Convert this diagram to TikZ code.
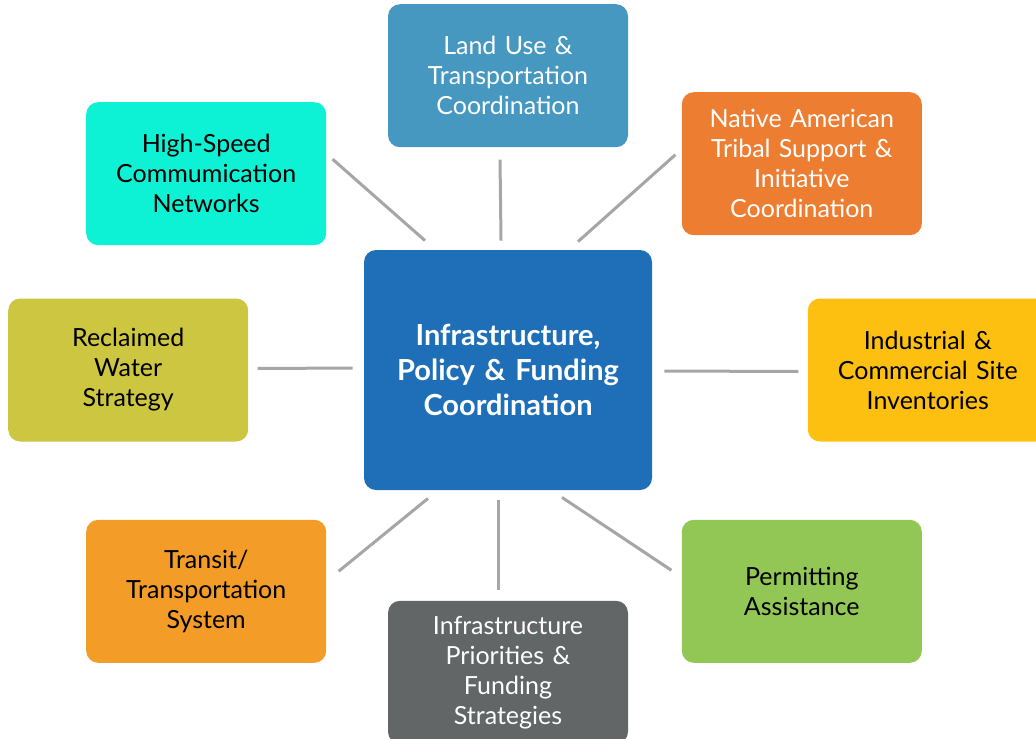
\documentclass[tikz,border=0pt]{standalone}
\usepackage{fontspec}
\setmainfont{Lato}
\usetikzlibrary{positioning}
\definecolor{coreblue}{HTML}{1F6FB8}
\definecolor{landblue}{HTML}{4698C0}
\definecolor{tribeorange}{HTML}{ED7D31}
\definecolor{netcyan}{HTML}{0DF2D4}
\definecolor{wateroil}{HTML}{CCC640}
\definecolor{siteyellow}{HTML}{FDC010}
\definecolor{transitorange}{HTML}{F39C28}
\definecolor{fundgray}{HTML}{636666}
\definecolor{permitgreen}{HTML}{92C755}
\definecolor{linkgray}{HTML}{A6A6A6}
\begin{document}
\begin{tikzpicture}[x=0.5pt,y=-0.5pt,
    box/.style={rounded corners=6pt,inner sep=0pt,minimum width=120pt,minimum height=71.5pt,
      text width=116pt,align=center,font=\fontsize{12.5}{15}\selectfont},
    core/.style={box,minimum width=144pt,minimum height=120pt,text width=140pt,
      font=\bfseries\fontsize{14.5}{17.5}\selectfont},
    link/.style={draw=linkgray,line width=1.5pt}]
  \useasboundingbox (0,0) rectangle (1036,738);
  \clip (0,0) rectangle (1036,738);
  \node[core,fill=coreblue,text=white] (core) at (508,370) {Infrastructure,\\Policy \& Funding\\Coordination};
  \node[box,fill=landblue,text=white]      (land)    [above=51pt of core]                {Land Use \&\\Transportation\\Coordination};
  \node[box,fill=netcyan]                  (net)     [above left=2pt and 18.5pt of core] {High-Speed\\Commumication\\Networks};
  \node[box,fill=tribeorange,text=white]   (tribe)   [above right=7pt and 14.5pt of core] {Native American\\Tribal Support \&\\Initiative\\Coordination};
  \node[box,fill=wateroil]                 (water)   [left=57.5pt of core]               {Reclaimed\\Water\\Strategy};
  \node[box,fill=siteyellow]               (site)    [right=77.5pt of core]              {Industrial \&\\Commercial Site\\Inventories};
  \node[box,fill=transitorange]            (transit) [below left=14.5pt and 18.5pt of core] {Transit/\\Transportation\\System};
  \node[box,fill=permitgreen]              (permit)  [below right=14.5pt and 14.5pt of core] {Permitting\\Assistance};
  \node[box,fill=fundgray,text=white]      (fund)    [below=55pt of core]                {Infrastructure\\Priorities \&\\Funding\\Strategies};

  % spokes
  \path[link] ([shift={(6,-14.5)}]net.east)    edge ([shift={(-83,-9)}]core.north)
              ([shift={(-8,12)}]land.south)    edge ([shift={(-7,-9)}]core.north)
              ([shift={(-6,-9)}]tribe.west)    edge ([shift={(70,-8)}]core.north)
              ([shift={(9,-1.5)}]water.east)   edge ([shift={(-11,-2)}]core.west)
              ([shift={(12,1)}]core.east)      edge ([shift={(-9,1.5)}]site.west)
              ([shift={(12,-20)}]transit.east) edge ([shift={(-80,8)}]core.south)
              ([shift={(-10,10)}]core.south)   edge ([shift={(-10,-10.5)}]fund.north)
              ([shift={(54,7)}]core.south)     edge ([shift={(-10,-21)}]permit.west);
\end{tikzpicture}
\end{document}
